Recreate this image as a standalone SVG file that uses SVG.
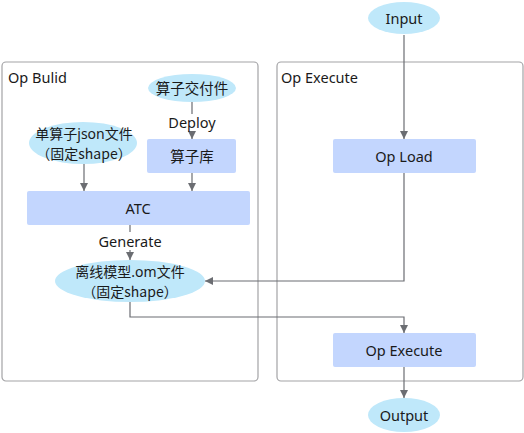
<svg xmlns="http://www.w3.org/2000/svg" width="524" height="433" viewBox="0 0 524 433">
<style>
text{font-family:"Noto Sans","Noto Sans CJK SC",sans-serif;font-size:14.5px;fill:#1a1a1a;text-anchor:middle;dominant-baseline:central}
.two{font-size:14px}
.cjk{font-family:"Noto Sans CJK SC",sans-serif}
.title{text-anchor:start}
.cont{fill:#fff;stroke:#a3a3a6;stroke-width:1.2}
.ell{fill:#bfe8fa}
.box{fill:#c3d6fe}
.ln{fill:none;stroke:#6b6d72;stroke-width:1.2}
</style>
<defs>
<marker id="ar" viewBox="0 0 10 10" refX="10" refY="5" markerWidth="8" markerHeight="8" markerUnits="userSpaceOnUse" orient="auto">
<path d="M0,0 L10,5 L0,10 z" fill="#6b6d72"/>
</marker>
</defs>
<g id="op-build"><rect class="cont" x="2" y="62" width="256" height="319" rx="4"/><text class="title" x="8" y="77">Op Bulid</text></g>
<g id="op-execute-group"><rect class="cont" x="277" y="62" width="246" height="319" rx="4"/><text class="title" x="281" y="77">Op Execute</text></g>
<g id="input"><ellipse class="ell" cx="404" cy="18" rx="36" ry="16"/><text x="404" y="18">Input</text></g>
<g id="op-load"><rect class="box" x="333" y="139" width="143" height="34" rx="2"/><text x="404" y="156">Op Load</text></g>
<g id="op-execute"><rect class="box" x="333" y="333" width="143" height="34" rx="2"/><text x="404" y="350">Op Execute</text></g>
<g id="output"><ellipse class="ell" cx="404" cy="415" rx="36" ry="17"/><text x="404" y="415">Output</text></g>
<g id="deliverable"><ellipse class="ell" cx="192" cy="88" rx="44" ry="14"/><text x="192" y="88">算子交付件</text></g>
<g id="op-lib"><rect class="box" x="147" y="139" width="89" height="34" rx="2"/><text x="192" y="156">算子库</text></g>
<g id="json"><ellipse class="ell" cx="83" cy="143" rx="54" ry="21"/><text class="two" x="84" y="133">单算子json文件<tspan class="cjk" x="84" dy="19.5">（固定shape）</tspan></text></g>
<g id="atc"><rect class="box" x="27" y="191" width="223" height="34" rx="2"/><text x="138" y="208">ATC</text></g>
<g id="om"><ellipse class="ell" cx="130" cy="281" rx="75" ry="21"/><text class="two" x="130" y="271.5">离线模型.om文件<tspan class="cjk" x="130" dy="19.5">（固定shape）</tspan></text></g>
<g id="connectors">
<path class="ln" d="M404,35 V139" marker-end="url(#ar)"/>
<path class="ln" d="M192,102 V114 M192,131 V139" marker-end="url(#ar)"/>
<text x="192" y="122">Deploy</text>
<path class="ln" d="M84,164 V191" marker-end="url(#ar)"/>
<path class="ln" d="M192,173 V191" marker-end="url(#ar)"/>
<path class="ln" d="M130,225 V232 M130,250 V260" marker-end="url(#ar)"/>
<text x="130" y="241">Generate</text>
<path class="ln" d="M404,173 V281 H205" marker-end="url(#ar)"/>
<path class="ln" d="M130,302 V317 H404 V333" marker-end="url(#ar)"/>
<path class="ln" d="M404,367 V398" marker-end="url(#ar)"/>
</g>
</svg>
